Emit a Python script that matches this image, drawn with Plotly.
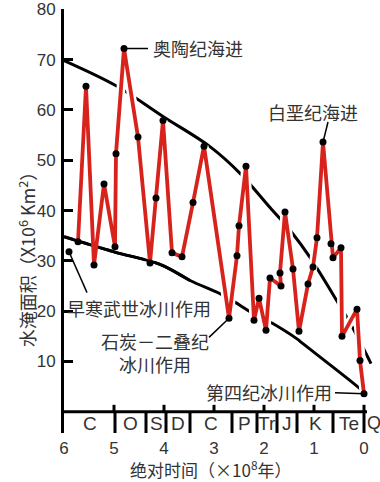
import plotly.graph_objects as go

# ---------------- data (time in 10^8 yr, area in 10^6 km^2) ----------------
red_t = [5.72, 5.56, 5.40, 5.20, 4.98, 4.96, 4.80, 4.52, 4.28, 4.16, 4.02, 3.84,
         3.64, 3.42, 3.20, 2.70, 2.54, 2.50, 2.36, 2.20, 2.10, 1.96, 1.88, 1.66,
         1.68, 1.58, 1.42, 1.30, 1.12, 1.02, 0.94, 0.82, 0.66, 0.62, 0.46, 0.44,
         0.14, 0.08, 0.00]
red_v = [33.8, 64.7, 29.2, 45.3, 32.8, 51.3, 72.2, 54.6, 29.6, 42.5, 57.9, 31.6,
         30.8, 41.6, 52.8, 18.6, 31.0, 37.0, 48.8, 18.2, 22.6, 16.2, 26.6, 25.0,
         27.6, 39.7, 28.4, 16.0, 25.4, 28.8, 34.6, 53.6, 33.4, 30.6, 32.6, 15.0,
         20.4, 10.2, 3.6]

cambrian_t = [5.90]
cambrian_v = [31.8]

upper_t = [6.00, 4.94, 4.02, 3.08, 2.48, 1.88, 1.44, 1.08, 0.52, 0.28, -0.14]
upper_v = [69.8, 64.7, 58.7, 52.7, 47.4, 40.6, 35.6, 30.7, 21.7, 17.7, 9.6]

lower_t = [6.00, 5.00, 4.08, 3.48, 2.88, 2.60, 2.24, 1.92, 1.34, 1.24, 0.08, 0.00]
lower_v = [34.8, 31.8, 29.3, 26.1, 23.5, 21.9, 19.7, 18.1, 14.5, 13.7, 4.6, 3.8]

period_bounds = [6.00, 4.98, 4.36, 3.96, 3.48, 2.64, 2.14, 1.74, 1.34, 0.62, 0.00]
period_names = ["C", "O", "S", "D", "C", "P", "Tr", "J", "K", "Te"]
last_period = "Q"

x_ticks = [6, 5, 4, 3, 2, 1, 0]
y_ticks = [10, 20, 30, 40, 50, 60, 70, 80]

# ---------------- styling ----------------
CJK = "Noto Sans CJK SC"
LAT = "Liberation Sans"
TXT = "#333333"
RED = "#d8231d"

fig = go.Figure()

# envelope curves (under the red path)
fig.add_trace(go.Scatter(x=upper_t, y=upper_v, mode="lines", line_shape="spline",
                         line=dict(color="black", width=3), hoverinfo="skip"))
fig.add_trace(go.Scatter(x=lower_t, y=lower_v, mode="lines", line_shape="spline",
                         line=dict(color="black", width=3), hoverinfo="skip"))

# white halo of the red path (cuts the black curves where they cross)
fig.add_trace(go.Scatter(x=red_t, y=red_v, mode="lines",
                         line=dict(color="white", width=9), hoverinfo="skip"))

# left part of the lower curve lies on top
left_t = [t for t in lower_t if t >= 3.4]
left_v = [v for t, v in zip(lower_t, lower_v) if t >= 3.4]
fig.add_trace(go.Scatter(x=left_t, y=left_v, mode="lines", line_shape="spline",
                         line=dict(color="black", width=3), hoverinfo="skip"))

# red path
fig.add_trace(go.Scatter(x=red_t, y=red_v, mode="lines",
                         line=dict(color=RED, width=3.8), hoverinfo="skip"))

# leader lines
leaders = [
    ([red_t[6], 4.32], [red_v[6], red_v[6]]),
    ([red_t[31], 0.72], [red_v[31], 57.6]),
    ([cambrian_t[0], 5.54], [cambrian_v[0], 23.7]),
    ([red_t[15], 3.10], [red_v[15], 14.8]),
    ([red_t[-1], 0.58], [red_v[-1], 3.8]),
]
for lx, ly in leaders:
    fig.add_trace(go.Scatter(x=lx, y=ly, mode="lines",
                             line=dict(color="black", width=1.5), hoverinfo="skip"))

# markers
fig.add_trace(go.Scatter(x=red_t + cambrian_t, y=red_v + cambrian_v, mode="markers",
                         marker=dict(color="black", size=7), hoverinfo="skip"))

# x-axis baseline, integer ticks above, period boundaries below
fig.add_trace(go.Scatter(x=[6, -0.06], y=[0, 0], mode="lines",
                         line=dict(color="black", width=3), hoverinfo="skip"))
tx, ty = [], []
for t in x_ticks[1:]:
    tx += [t, t, None]
    ty += [0, 1.4, None]
fig.add_trace(go.Scatter(x=tx, y=ty, mode="lines", line=dict(color="black", width=3),
                         hoverinfo="skip"))
bx, by = [], []
for t in period_bounds[1:]:
    bx += [t, t, None]
    by += [0, -4.2, None]
fig.add_trace(go.Scatter(x=bx, y=by, mode="lines", line=dict(color="black", width=3),
                         hoverinfo="skip"))

annotations = []
for i, name in enumerate(period_names):
    mid = (period_bounds[i] + period_bounds[i + 1]) / 2
    annotations.append(dict(x=mid, y=-2.3, text=name, showarrow=False,
                            font=dict(family=LAT, size=19, color=TXT)))
annotations.append(dict(x=-0.2, y=-2.3, text=last_period, showarrow=False,
                        font=dict(family=LAT, size=18, color=TXT)))

cjk_font = dict(family=CJK, size=18, color=TXT)
annotations += [
    dict(x=4.26, y=72.3, text="奥陶纪海进", xanchor="left", showarrow=False, font=cjk_font),
    dict(x=1.96, y=59.5, text="白垩纪海进", xanchor="left", showarrow=False, font=cjk_font),
    dict(x=5.98, y=20.6, text="早寒武世冰川作用", xanchor="left", showarrow=False, font=cjk_font),
    dict(x=4.18, y=11.8, text="石炭－二叠纪<br>冰川作用", align="center",
         showarrow=False, font=cjk_font),
    dict(x=0.60, y=3.9, text="第四纪冰川作用", xanchor="right", showarrow=False, font=cjk_font),
    dict(x=0.5, y=0, xref="paper", yref="paper", yanchor="middle",
         text="绝对时间（×10<sup>8</sup>年）", showarrow=False, xshift=-12, yshift=-36,
         font=dict(family=CJK, size=17, color=TXT)),
    dict(x=-0.16, y=0.42, xref="paper", yref="paper", textangle=-90,
         text="水淹面积（X10<sup>6</sup> Km<sup>2</sup>）", showarrow=False, xshift=-3,
         font=dict(family=CJK, size=18, color=TXT)),
]

fig.update_layout(
    width=380, height=482,
    margin=dict(l=64, r=0, t=9, b=49),
    paper_bgcolor="white", plot_bgcolor="white",
    showlegend=False,
    annotations=annotations,
    xaxis=dict(range=[6, -0.32], showgrid=False, zeroline=False, showline=False,
               tickmode="array", tickvals=x_ticks, ticktext=[str(t) for t in x_ticks],
               ticks="", ticklabelstandoff=3,
               tickfont=dict(family=LAT, size=17, color=TXT)),
    yaxis=dict(range=[-4.2, 80.05], showgrid=False, zeroline=False, showline=True,
               linecolor="black", linewidth=3,
               tickmode="array", tickvals=y_ticks, ticktext=[str(v) for v in y_ticks],
               ticks="inside", ticklen=9, tickwidth=3, tickcolor="black",
               ticklabelstandoff=2,
               tickfont=dict(family=LAT, size=17, color=TXT)),
)

fig.write_html("out.html", config={"displayModeBar": False},
               post_script="document.body.style.margin='0';document.body.style.overflow='hidden';")
